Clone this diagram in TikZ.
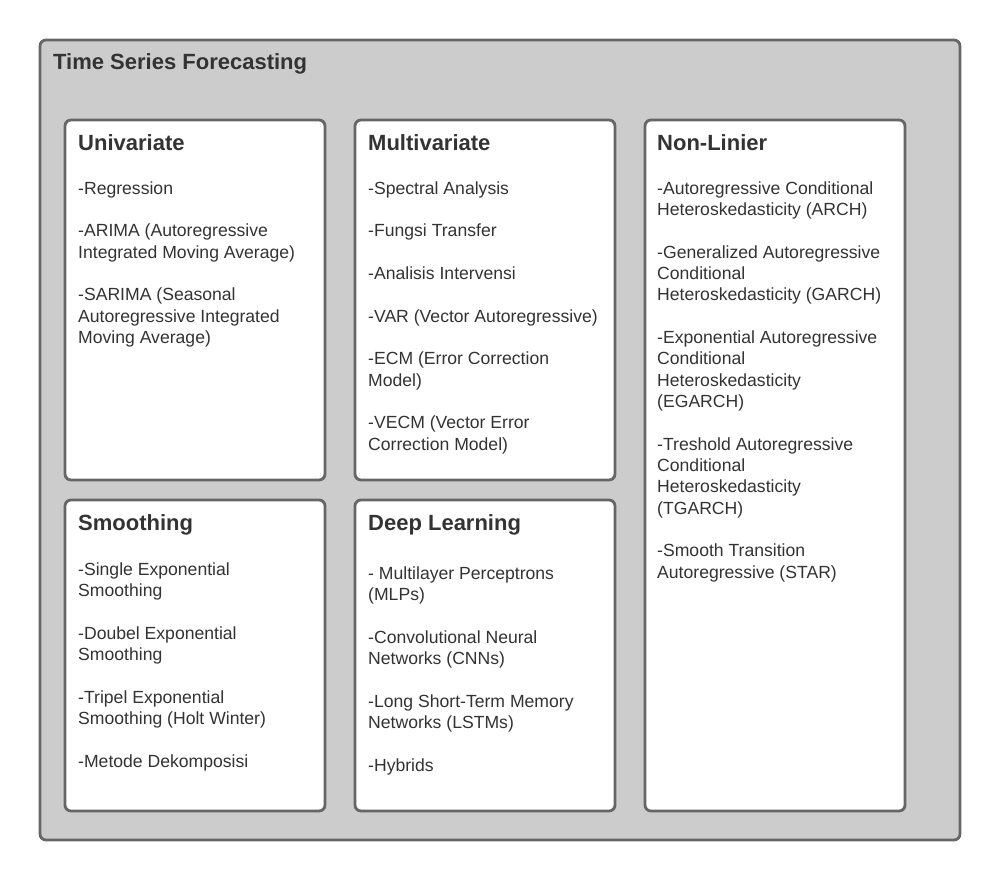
\documentclass[tikz,border=0pt]{standalone}
\usepackage{fontspec}
\setmainfont{Liberation Sans}
\begin{document}
\begin{tikzpicture}[x=1pt,y=-1pt,
  outerbox/.style={draw=boxline,fill=outerfill,line width=2.8pt,rounded corners=6pt},
  catbox/.style={draw=boxline,fill=white,line width=2.8pt,rounded corners=6pt},
  maintitle/.style={anchor=base west,inner sep=0pt,text=txtcol,font=\fontsize{22}{24}\selectfont\bfseries},
  cattitle/.style={anchor=base west,inner sep=0pt,text=txtcol,font=\fontsize{22}{24}\selectfont\bfseries},
  itemtxt/.style={anchor=base west,inner sep=0pt,text=txtcol,font=\fontsize{17.6}{20}\selectfont}]
\definecolor{boxline}{HTML}{666666}
\definecolor{outerfill}{HTML}{CCCCCC}
\definecolor{txtcol}{HTML}{333333}
\useasboundingbox (0,0) rectangle (1000,880);
\fill[white] (0,0) rectangle (1000,880);

% outer container
\draw[outerbox] (40,40) rectangle (960,840);
\node[maintitle] (main) at (53,70) {Time Series Forecasting};

% category boxes
\draw[catbox] (65,120) rectangle (325,480);
\draw[catbox] (355,120) rectangle (615,480);
\draw[catbox] (645,120) rectangle (905,811);
\draw[catbox] (65,500) rectangle (325,811);
\draw[catbox] (355,500) rectangle (615,811);

\def\lh{21.35}

% Univariate
\node[cattitle] (uni) at (78,150) {Univariate};
\foreach \k/\t in {0/{-Regression},2/{-ARIMA (Autoregressive},3/{Integrated Moving Average)},
  5/{-SARIMA (Seasonal},6/{Autoregressive Integrated},7/{Moving Average)}}
  \node[itemtxt] (uni-\k) at (78,194+\k*\lh) {\t};

% Multivariate
\node[cattitle] (multi) at (368,150) {Multivariate};
\foreach \k/\t in {0/{-Spectral Analysis},2/{-Fungsi Transfer},4/{-Analisis Intervensi},
  6/{-VAR (Vector Autoregressive)},8/{-ECM (Error Correction},9/{Model)},
  11/{-VECM (Vector Error},12/{Correction Model)}}
  \node[itemtxt] (multi-\k) at (368,194+\k*\lh) {\t};

% Non-Linier
\node[cattitle] (nonlin) at (657,150) {Non-Linier};
\foreach \k/\t in {0/{-Autoregressive Conditional},1/{Heteroskedasticity (ARCH)},
  3/{-Generalized Autoregressive},4/{Conditional},5/{Heteroskedasticity (GARCH)},
  7/{-Exponential Autoregressive},8/{Conditional},9/{Heteroskedasticity},10/{(EGARCH)},
  12/{-Treshold Autoregressive},13/{Conditional},14/{Heteroskedasticity},15/{(TGARCH)},
  17/{-Smooth Transition},18/{Autoregressive (STAR)}}
  \node[itemtxt] (nonlin-\k) at (657,194+\k*\lh) {\t};

% Smoothing
\node[cattitle] (smooth) at (78,530) {Smoothing};
\foreach \k/\t in {0/{-Single Exponential},1/{Smoothing},3/{-Doubel Exponential},4/{Smoothing},
  6/{-Tripel Exponential},7/{Smoothing (Holt Winter)},9/{-Metode Dekomposisi}}
  \node[itemtxt] (smooth-\k) at (78,575+\k*\lh) {\t};

% Deep Learning
\node[cattitle] (deep) at (368,530) {Deep Learning};
\foreach \k/\t in {0/{- Multilayer Perceptrons},1/{(MLPs)},3/{-Convolutional Neural},4/{Networks (CNNs)},
  6/{-Long Short-Term Memory},7/{Networks (LSTMs)},9/{-Hybrids}}
  \node[itemtxt] (deep-\k) at (368,579+\k*\lh) {\t};
\end{tikzpicture}
\end{document}
